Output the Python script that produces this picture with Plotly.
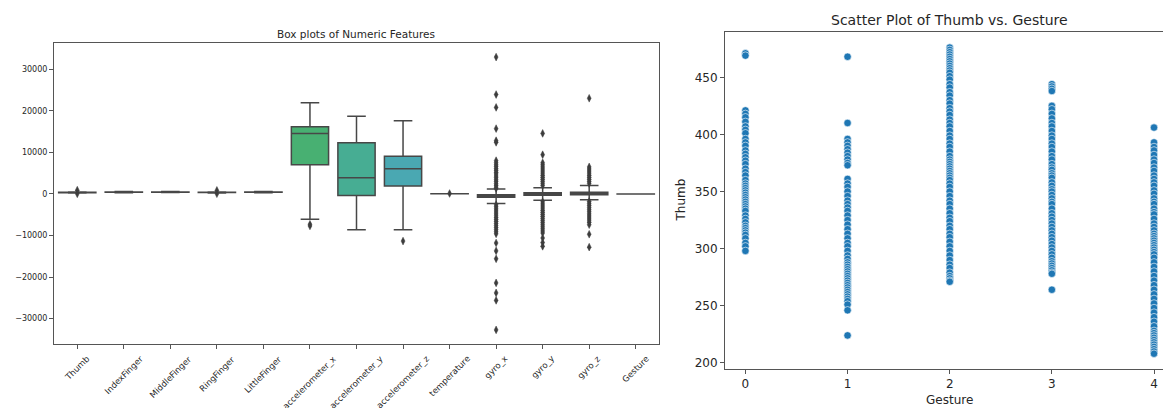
import plotly.graph_objects as go

W, H = 1163, 408

# ---------------- Box plot data ----------------
features = ["Thumb", "IndexFinger", "MiddleFinger", "RingFinger", "LittleFinger",
            "accelerometer_x", "accelerometer_y", "accelerometer_z", "temperature",
            "gyro_x", "gyro_y", "gyro_z", "Gesture"]
q1 = [305, 390, 410, 330, 400, 7030, -400, 1920, 24, -800, -300, -200, 1]
median = [355, 430, 450, 370, 440, 14550, 3900, 6070, 28, -500, 0, 100, 2]
q3 = [405, 470, 490, 410, 480, 16140, 12300, 9040, 31, -200, 300, 400, 3]
lowerfence = [225, 300, 320, 240, 300, -6070, -8630, -8630, 15, -2300, -1500, -1400, 0]
upperfence = [470, 560, 580, 470, 570, 21900, 18700, 17580, 40, 1200, 1500, 2000, 4]

outliers = {
    "Thumb": [30, 900],
    "RingFinger": [40, 850],
    "accelerometer_x": [-7300, -7700],
    "accelerometer_z": [-11340],
    "temperature": [100],
    "gyro_x": [32900, 23900, 20800, 15700, 12800, 12400, 8000, 7500, 7000, 6600, 6100,
               5700, 5200, 4800, 4300, 3900, 3400, 3000, 2500, 2100, 1600, 1300,
               -2600, -3100, -3600, -4100, -4600, -5100, -5600, -6100, -6600, -7100,
               -7600, -8100, -8600, -9100, -9600, -11800, -13700, -15600, -21400,
               -23800, -25600, -32700],
    "gyro_y": [14550, 9430, 7500, 7000, 6500, 6000, 5500, 5000, 4500, 4000, 3500, 3000,
               2500, 2000, -1900, -2400, -2900, -3400, -3900, -4400, -4900, -5400,
               -5900, -6400, -6900, -7400, -7900, -8400, -8900, -9400, -10600, -11700,
               -12600],
    "gyro_z": [23000, 6500, 6000, 5500, 5000, 4500, 4000, 3500, 3000, 2500, -1800, -2300,
               -2800, -3300, -3800, -4300, -4800, -5300, -5800, -6300, -6800, -7400,
               -9700, -12800],
}

box_colors = ["#d9807f", "#d08a55", "#b59a4c", "#97a54c", "#6dac52", "#48b072",
              "#47ad93", "#4aa8b2", "#4ea3c7", "#7a9bd6", "#a38fd6", "#c882cd", "#d67ca8"]

# ---------------- Scatter data ----------------
thumb_g0 = [471, 469, 421, 418, 415, 411, 407, 404, 401, 396, 393, 390, 386, 383, 380,
            377, 374, 370, 367, 364, 360, 357, 355, 353, 351, 349, 347, 345, 343, 341,
            339, 337, 335, 333, 329, 326, 323, 320, 318, 316, 314, 312, 309, 305, 302,
            298]
thumb_g1 = [468, 410, 396, 393, 390, 387, 384, 381, 378, 375, 373, 361, 357, 354, 350,
            346, 342, 339, 336, 333, 329, 325, 321, 317, 313, 309, 305, 302, 298, 294,
            291, 288, 286, 284, 282, 280, 278, 276, 274, 272, 270, 268, 266, 264, 262,
            260, 258, 256, 254, 251, 246, 224]
thumb_g2 = [476, 474, 472, 470, 468, 466, 464, 462, 460, 458, 456, 454, 451, 448, 444,
            441, 437, 434, 430, 427, 423, 420, 417, 413, 410, 407, 403, 399, 396, 392,
            389, 385, 381, 378, 376, 374, 372, 370, 368, 366, 364, 362, 360, 357, 354,
            350, 346, 342, 339, 335, 331, 327, 324, 320, 317, 313, 310, 306, 302, 298,
            294, 290, 286, 283, 279, 276, 274, 272, 271]
thumb_g3 = [444, 442, 440, 438, 425, 422, 418, 414, 410, 407, 403, 399, 396, 392, 389,
            385, 381, 378, 374, 371, 369, 366, 364, 362, 358, 355, 352, 350, 347, 344,
            341, 339, 335, 331, 328, 325, 322, 319, 316, 313, 310, 307, 304, 301, 298,
            295, 292, 289, 287, 285, 283, 281, 279, 278, 264]
thumb_g4 = [406, 393, 389, 386, 382, 378, 375, 371, 368, 364, 361, 358, 355, 351, 348,
            344, 341, 339, 335, 332, 330, 326, 322, 319, 316, 313, 311, 309, 307, 305,
            303, 301, 299, 297, 295, 292, 288, 284, 280, 276, 272, 268, 264, 260, 256,
            252, 248, 244, 240, 236, 232, 228, 226, 224, 222, 220, 218, 216, 214, 212,
            210, 208]
gestures = [0, 1, 2, 3, 4]
thumb_by_gesture = [thumb_g0, thumb_g1, thumb_g2, thumb_g3, thumb_g4]

FONT = "DejaVu Sans"
EDGE = "#474747"
TXT = "#262626"

fig = go.Figure()

for i, f in enumerate(features):
    fig.add_trace(go.Box(
        x=[f], q1=[q1[i]], median=[median[i]], q3=[q3[i]],
        lowerfence=[lowerfence[i]], upperfence=[upperfence[i]],
        fillcolor=box_colors[i], line=dict(color=EDGE, width=1.5),
        width=0.8, whiskerwidth=0.5, boxpoints=False,
        xaxis="x", yaxis="y", showlegend=False, hoverinfo="skip"))

ox, oy = [], []
for f in features:
    for v in outliers.get(f, []):
        ox.append(f)
        oy.append(v)
fig.add_trace(go.Scatter(
    x=ox, y=oy, mode="markers", xaxis="x", yaxis="y", showlegend=False,
    marker=dict(symbol="diamond-tall", size=5.5, color="#3d3d3d",
                line=dict(width=0.5, color="#3d3d3d"))))

sx, sy = [], []
for g, vals in zip(gestures, thumb_by_gesture):
    for v in vals:
        sx.append(g)
        sy.append(v)
fig.add_trace(go.Scatter(
    x=sx, y=sy, mode="markers", xaxis="x2", yaxis="y2", showlegend=False,
    cliponaxis=False,
    marker=dict(size=7.5, color="#1f77b4", line=dict(width=0.6, color="white"))))

# geometry in pixels
L1, R1, T1, B1 = 54, 659, 43, 344
L2, R2, T2, B2 = 725, 1163, 32.3, 369

def px_x(p):
    return p / W

def px_y(p):
    return (H - p) / H

axis_common = dict(showgrid=False, zeroline=False, showline=True, linecolor="#555555",
                   linewidth=1, ticks="outside", ticklen=4, tickcolor="#555555",
                   automargin=False)

fig.update_layout(
    width=W, height=H, margin=dict(l=0, r=0, t=0, b=0),
    paper_bgcolor="white", plot_bgcolor="white",
    font=dict(family=FONT, color=TXT),
    boxmode="overlay",
    xaxis=dict(domain=[px_x(L1), px_x(R1)], anchor="y", type="category",
               categoryorder="array", categoryarray=features, range=[-0.5, 12.5],
               showticklabels=False, mirror=True, **axis_common),
    yaxis=dict(domain=[px_y(B1), px_y(T1)], anchor="x", range=[-36090, 36290],
               tickvals=[-30000, -20000, -10000, 0, 10000, 20000, 30000],
               tickformat="d", tickfont=dict(size=8, color=TXT), mirror=True,
               **axis_common),
    xaxis2=dict(domain=[px_x(L2), px_x(R2)], anchor="y2", range=[-0.2, 4.088],
                tickvals=[0, 1, 2, 3, 4], tickfont=dict(size=12, color=TXT),
                mirror=True, **axis_common),
    yaxis2=dict(domain=[px_y(B2), px_y(T2)], anchor="x2", range=[194.6, 489.4],
                tickvals=[200, 250, 300, 350, 400, 450],
                tickfont=dict(size=12, color=TXT), mirror=False, **axis_common),
)

annotations = []
for f in features:
    annotations.append(dict(x=f, xref="x", y=px_y(B1), yref="paper", text=f,
                            showarrow=False, textangle=-45, xanchor="center",
                            yanchor="top", yshift=-7, font=dict(size=8.5, color=TXT)))
annotations.append(dict(x=px_x(356), xref="paper", y=px_y(34), yref="paper",
                        text="Box plots of Numeric Features", showarrow=False,
                        xanchor="center", yanchor="middle", font=dict(size=10.5, color=TXT)))
annotations.append(dict(x=px_x(949.5), xref="paper", y=px_y(20), yref="paper",
                        text="Scatter Plot of Thumb vs. Gesture", showarrow=False,
                        xanchor="center", yanchor="middle", font=dict(size=14, color=TXT)))
annotations.append(dict(x=px_x(949.5), xref="paper", y=px_y(400), yref="paper",
                        text="Gesture", showarrow=False,
                        xanchor="center", yanchor="middle", font=dict(size=12, color=TXT)))
annotations.append(dict(x=px_x(680), xref="paper", y=px_y(200.5), yref="paper",
                        text="Thumb", showarrow=False, textangle=-90,
                        xanchor="center", yanchor="middle", font=dict(size=12, color=TXT)))
fig.update_layout(annotations=annotations)

fig.write_html("out.html")
